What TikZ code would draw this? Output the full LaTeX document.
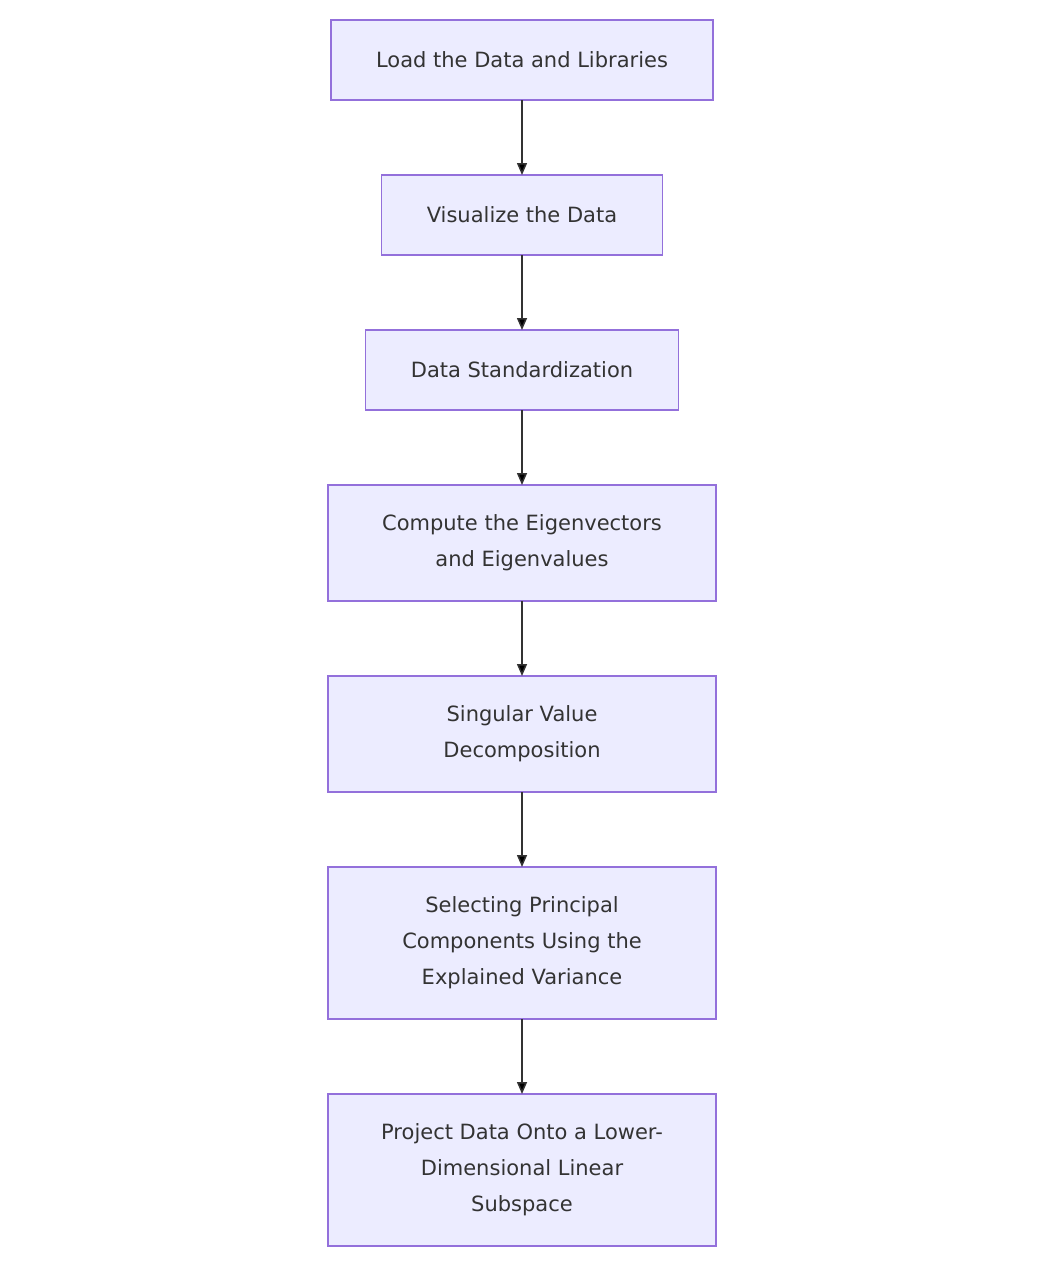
\documentclass[tikz,border=0pt]{standalone}
\usepackage{fontspec}
\setmainfont{DejaVu Sans}
\usepackage{tikz}
\usetikzlibrary{positioning,arrows.meta}
\definecolor{boxfill}{HTML}{ECECFF}
\definecolor{boxline}{HTML}{9370DB}
\definecolor{ink}{HTML}{333333}
\tikzset{flow node/.style={rectangle, draw=boxline, fill=boxfill, line width=1.2pt, text=ink, inner xsep=45pt, inner ysep=0pt, outer sep=0pt, minimum height=80pt, align=center, font=\fontsize{21}{36}\selectfont},
wide node/.style={flow node, minimum width=388pt},}

\begin{document}
\begin{tikzpicture}[x=1pt, y=1pt, -{Triangle[length=12pt,width=10pt]}, line width=1.5pt]
        \useasboundingbox (0,0) rectangle (1046,-1266);
        % Nodes
        \node[flow node] (1) at (522,-60) {Load the Data and Libraries};
        \node[flow node] [below = 75pt of 1] (2) {Visualize the Data};
        \node[flow node] [below = 75pt of 2] (3) {Data Standardization};
        \node[wide node, minimum height=116pt] [below = 75pt of 3] (4) {Compute the Eigenvectors\\and Eigenvalues};
        \node[wide node, minimum height=116pt] [below = 75pt of 4] (5) {Singular Value\\Decomposition};
        \node[wide node, minimum height=152pt] [below = 75pt of 5] (6) {Selecting Principal\\Components Using the\\Explained Variance};
        \node[wide node, minimum height=152pt] [below = 75pt of 6] (7) {Project Data Onto a Lower-\\Dimensional Linear\\Subspace};
        % Paths
        \path[draw=ink]
        (1) edge (2)
        (2) edge (3)
        (3) edge (4)
        (4) edge (5)
        (5) edge (6)
        (6) edge (7);
    \end{tikzpicture}
\end{document}
